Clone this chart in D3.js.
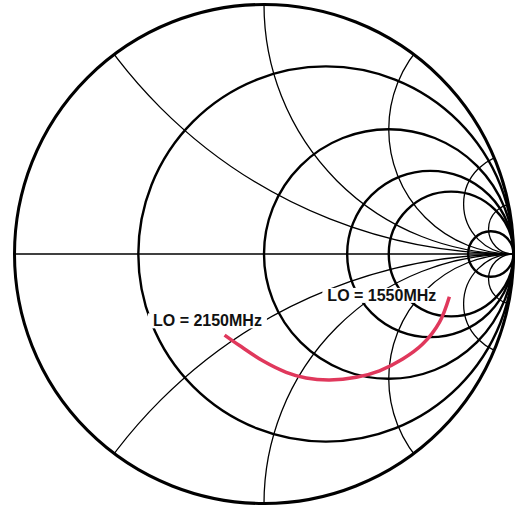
<!DOCTYPE html>
<html>
<head>
<meta charset="utf-8">
<script src="https://cdn.jsdelivr.net/npm/d3@7"></script>
<style>
  html, body { margin: 0; padding: 0; background: #fff; }
  svg { display: block; }
</style>
</head>
<body>
<svg id="chart" width="517" height="506"></svg>
<script>
// ---- data ----
const resistances = [0, 0.33, 1, 2, 3, 10];          // constant-resistance circles (0 = outer rim)
const reactances = [0.5, 1, 2, 5, 10, -0.5, -1, -2, -5, -10]; // constant-reactance arcs
// reflection-coefficient trace (real, imag) of the LO sweep
const traceRe = [-0.158, -0.098, -0.005, 0.089, 0.169, 0.263, 0.370, 0.463, 0.556, 0.636, 0.703, 0.743];
const traceIm = [-0.325, -0.367, -0.428, -0.474, -0.497, -0.505, -0.494, -0.468, -0.421, -0.361, -0.274, -0.171];
const labels = [
  { text: "LO = 2150MHz", re: -0.445, im: -0.290 },
  { text: "LO = 1550MHz", re: 0.254, im: -0.188 }
];

// ---- layout ----
const cx = 264, cy = 254, R = 249.5;
const svg = d3.select("#chart");
svg.append("rect").attr("width", 517).attr("height", 506).attr("fill", "#fff");

const x = d3.scaleLinear().domain([-1, 1]).range([cx - R, cx + R]);
const y = d3.scaleLinear().domain([-1, 1]).range([cy + R, cy - R]);
const len = v => x(v) - x(0);

svg.append("clipPath").attr("id", "unit")
  .append("circle").attr("cx", x(0)).attr("cy", y(0)).attr("r", len(1));

const grid = svg.append("g").attr("fill", "none").attr("stroke", "#000");

// real axis
grid.append("line")
  .attr("x1", x(-1)).attr("x2", x(1)).attr("y1", y(0)).attr("y2", y(0))
  .attr("stroke-width", 1.3);

// reactance arcs
grid.append("g").attr("clip-path", "url(#unit)")
  .selectAll("circle").data(reactances).join("circle")
  .attr("cx", x(1))
  .attr("cy", d => y(1 / d))
  .attr("r", d => len(1 / Math.abs(d)))
  .attr("stroke-width", 1.3);

// resistance circles
grid.selectAll("circle.res").data(resistances).join("circle")
  .attr("class", "res")
  .attr("cx", d => x(d / (1 + d)))
  .attr("cy", y(0))
  .attr("r", d => len(1 / (1 + d)))
  .attr("stroke-width", d => d === 0 ? 3 : 2.4);

// labels with white backing
const lab = svg.append("g");
labels.forEach(l => {
  const g = lab.append("g");
  const t = g.append("text")
    .attr("x", x(l.re)).attr("y", y(l.im))
    .attr("font-family", "Liberation Sans, Arial, sans-serif")
    .attr("font-weight", "bold")
    .attr("font-size", 16)
    .attr("fill", "#111")
    .text(l.text);
  const b = t.node().getBBox();
  g.insert("rect", "text")
    .attr("x", b.x - 5).attr("y", b.y + 1)
    .attr("width", b.width + 10).attr("height", b.height - 2)
    .attr("fill", "#fff");
});

// trace
const pts = traceRe.map((r, i) => [r, traceIm[i]]);
svg.append("path")
  .datum(pts)
  .attr("fill", "none")
  .attr("stroke", "#e0385c")
  .attr("stroke-width", 3.5)
  .attr("stroke-linecap", "butt")
  .attr("d", d3.line().x(d => x(d[0])).y(d => y(d[1])).curve(d3.curveCatmullRom));
</script>
</body>
</html>
